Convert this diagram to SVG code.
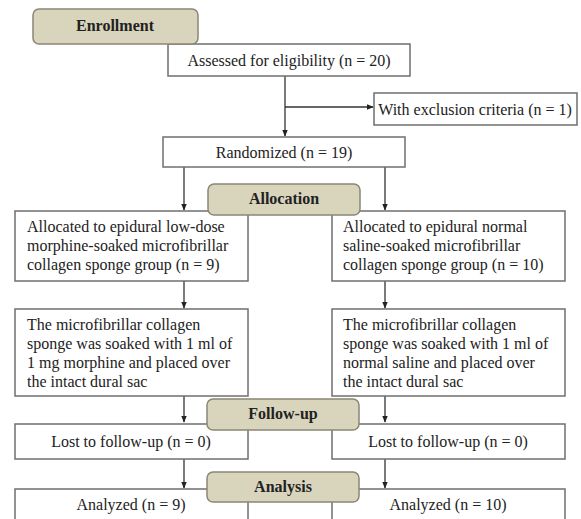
<svg xmlns="http://www.w3.org/2000/svg" width="581" height="519" viewBox="0 0 581 519" font-family="Liberation Serif, Times New Roman, DejaVu Serif, serif">
<defs>
<style>
.box{fill:#fff;stroke:#6f6f6f;stroke-width:1.5}
.lbl{fill:#d9d4bc;stroke:#8b8775;stroke-width:1.5}
text{font-family:"Liberation Serif",serif;font-size:16px;fill:#222}
.c{text-anchor:middle}
.b{font-weight:bold;text-anchor:middle}
.ln{stroke:#333;stroke-width:1.3;fill:none}
</style>
<marker id="ah" viewBox="0 0 10 10" refX="9" refY="5" markerWidth="7" markerHeight="7" orient="auto" markerUnits="userSpaceOnUse">
<path d="M0,1 L10,5 L0,9 z" fill="#222"/>
</marker>
</defs>
<rect width="581" height="519" fill="#fff"/>
<g id="connectors">
<path class="ln" d="M285,76 V136" marker-end="url(#ah)"/>
<path class="ln" d="M285,107 H373" marker-end="url(#ah)"/>
<path class="ln" d="M184,167 V210" marker-end="url(#ah)"/>
<path class="ln" d="M385,167 V210" marker-end="url(#ah)"/>
<path class="ln" d="M184,281 V308" marker-end="url(#ah)"/>
<path class="ln" d="M385,281 V308" marker-end="url(#ah)"/>
<path class="ln" d="M184,396 V422" marker-end="url(#ah)"/>
<path class="ln" d="M385,396 V422" marker-end="url(#ah)"/>
<path class="ln" d="M184,459 V488" marker-end="url(#ah)"/>
<path class="ln" d="M385,459 V488" marker-end="url(#ah)"/>
</g>
<g id="assessed"><rect class="box" x="168" y="44" width="242" height="32"/><text class="c" x="289" y="66">Assessed for eligibility (n = 20)</text></g>
<g id="exclusion"><rect class="box" x="374" y="93" width="203" height="32"/><text class="c" x="475" y="115">With exclusion criteria (n = 1)</text></g>
<g id="randomized"><rect class="box" x="163" y="137" width="242" height="30"/><text class="c" x="284" y="158">Randomized (n = 19)</text></g>
<g id="alloc-left"><rect class="box" x="15" y="211" width="233" height="70"/>
<text x="27" y="232">Allocated to epidural low-dose</text>
<text x="27" y="251">morphine-soaked microfibrillar</text>
<text x="27" y="270">collagen sponge group (n = 9)</text></g>
<g id="alloc-right"><rect class="box" x="332" y="211" width="233" height="70"/>
<text x="343" y="232">Allocated to epidural normal</text>
<text x="343" y="251">saline-soaked microfibrillar</text>
<text x="343" y="270">collagen sponge group (n = 10)</text></g>
<g id="sponge-left"><rect class="box" x="15" y="309" width="233" height="87"/>
<text x="27" y="330">The microfibrillar  collagen</text>
<text x="27" y="349">sponge was soaked with 1 ml of</text>
<text x="27" y="368">1 mg morphine and placed over</text>
<text x="27" y="387">the intact dural sac</text></g>
<g id="sponge-right"><rect class="box" x="332" y="309" width="233" height="87"/>
<text x="343" y="330">The microfibrillar  collagen</text>
<text x="343" y="349">sponge was soaked with 1 ml of</text>
<text x="343" y="368">normal saline and placed over</text>
<text x="343" y="387">the intact dural sac</text></g>
<g id="lost-left"><rect class="box" x="15" y="424" width="233" height="35"/><text class="c" x="131" y="447">Lost to follow-up (n = 0)</text></g>
<g id="lost-right"><rect class="box" x="332" y="424" width="233" height="35"/><text class="c" x="448" y="447">Lost to follow-up (n = 0)</text></g>
<g id="analyzed-left"><rect class="box" x="15" y="489" width="233" height="40"/><text class="c" x="131" y="510">Analyzed (n = 9)</text></g>
<g id="analyzed-right"><rect class="box" x="332" y="489" width="233" height="40"/><text class="c" x="448" y="510">Analyzed (n = 10)</text></g>
<g id="enrollment"><rect class="lbl" x="33" y="9" width="165" height="35" rx="6"/><text class="b" x="115" y="31">Enrollment</text></g>
<g id="allocation"><rect class="lbl" x="208" y="184" width="152" height="31" rx="6"/><text class="b" x="284" y="204">Allocation</text></g>
<g id="followup"><rect class="lbl" x="207" y="399" width="152" height="31" rx="6"/><text class="b" x="283" y="419">Follow-up</text></g>
<g id="analysis"><rect class="lbl" x="207" y="472" width="152" height="30" rx="6"/><text class="b" x="283" y="492">Analysis</text></g>
</svg>
